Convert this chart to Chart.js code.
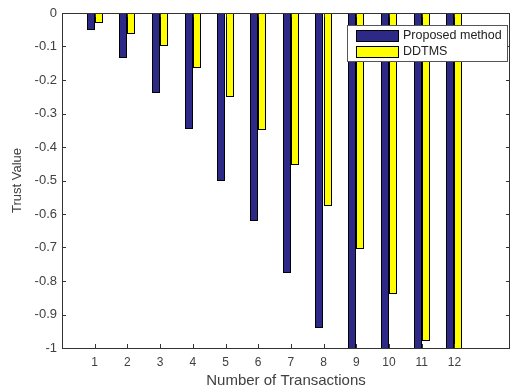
<!DOCTYPE html>
<html>
<head>
<meta charset="utf-8">
<script src="https://cdn.jsdelivr.net/npm/chart.js@4.4.1/dist/chart.umd.min.js"></script>
<style>
  html, body { margin: 0; padding: 0; background: #fff; }
  #wrap { width: 512px; height: 389px; }
</style>
</head>
<body>
<div id="wrap"><canvas id="trustChart" width="512" height="389"></canvas></div>
<script>
// --- DATA ---
const transactions = [1, 2, 3, 4, 5, 6, 7, 8, 9, 10, 11, 12];
const proposedValues = [-0.05, -0.135, -0.24, -0.345, -0.5, -0.62, -0.775, -0.94, -1.1, -1.25, -1.4, -1.55];
const ddtmsValues = [-0.03, -0.062, -0.098, -0.163, -0.25, -0.35, -0.455, -0.577, -0.705, -0.84, -0.978, -1.15];
const yTicks = [0, -0.1, -0.2, -0.3, -0.4, -0.5, -0.6, -0.7, -0.8, -0.9, -1];

const FONT = "'Liberation Sans', Arial, sans-serif";
const TEXT = '#404040';

// snap bars to whole pixels so the edges stay crisp
const snapBars = {
    id: 'snapBars',
    afterDatasetsUpdate(chart) {
        chart.data.datasets.forEach((ds, i) => {
            chart.getDatasetMeta(i).data.forEach(el => {
                const w = Math.round(el.width);
                const left = Math.round(el.x - el.width / 2);
                el.width = w;
                el.x = left + w / 2;
                el.y = Math.round(el.y);
                el.base = Math.round(el.base);
            });
        });
    }
};

// box around plot + inward tick marks + legend inside the axes (MATLAB look)
const matlabBox = {
    id: 'matlabBox',
    afterDraw(chart) {
        const ctx = chart.ctx;
        const a = chart.chartArea;
        const xs = chart.scales.x, ys = chart.scales.y;
        ctx.save();
        ctx.strokeStyle = '#333';
        ctx.lineWidth = 1;
        ctx.strokeRect(a.left + 0.5, a.top + 0.5, a.right - a.left - 1, a.bottom - a.top);
        ctx.beginPath();
        transactions.forEach(t => {
            const px = Math.round(xs.getPixelForValue(t)) + 0.5;
            ctx.moveTo(px, a.bottom); ctx.lineTo(px, a.bottom - 4);
            ctx.moveTo(px, a.top); ctx.lineTo(px, a.top + 4);
        });
        yTicks.forEach(v => {
            const py = Math.round(ys.getPixelForValue(v)) + 0.5;
            ctx.moveTo(a.left, py); ctx.lineTo(a.left + 4, py);
            ctx.moveTo(a.right, py); ctx.lineTo(a.right - 4, py);
        });
        ctx.stroke();

        // legend
        const lx = 347, ly = 25, lw = 160, lh = 36;
        ctx.fillStyle = '#fff';
        ctx.fillRect(lx, ly, lw, lh);
        ctx.strokeStyle = '#555';
        ctx.strokeRect(lx + 0.5, ly + 0.5, lw, lh);
        ctx.font = '12.5px ' + FONT;
        ctx.textBaseline = 'middle';
        chart.data.datasets.forEach((ds, i) => {
            const rowY = ly + 10 + i * 16;
            ctx.fillStyle = ds.backgroundColor;
            ctx.fillRect(lx + 9, rowY - 5, 42, 11);
            ctx.strokeStyle = '#000';
            ctx.strokeRect(lx + 9.5, rowY - 4.5, 42, 11);
            ctx.fillStyle = '#222';
            ctx.fillText(ds.label, lx + 56, rowY + 1);
        });
        ctx.restore();
    }
};

const barStyle = {
    borderColor: '#000',
    borderWidth: 1,
    borderSkipped: false,
    inflateAmount: 0,
    categoryPercentage: 0.5,
    barPercentage: 1
};

const ctx = document.getElementById('trustChart');
new Chart(ctx, {
    type: 'bar',
    data: {
        datasets: [
            Object.assign({
                label: 'Proposed method',
                data: transactions.map((t, i) => ({ x: t, y: proposedValues[i] })),
                backgroundColor: '#2c2a86'
            }, barStyle),
            Object.assign({
                label: 'DDTMS',
                data: transactions.map((t, i) => ({ x: t, y: ddtmsValues[i] })),
                backgroundColor: '#ffff00'
            }, barStyle)
        ]
    },
    options: {
        responsive: false,
        animation: false,
        layout: { padding: { top: 13, right: 2, left: 0, bottom: 0 } },
        plugins: { legend: { display: false }, tooltip: { enabled: false } },
        scales: {
            x: {
                type: 'linear',
                min: 0,
                max: 13.7,
                offset: false,
                grid: { display: false, drawTicks: false },
                border: { display: false },
                afterBuildTicks: s => { s.ticks = transactions.map(v => ({ value: v })); },
                afterFit: s => { s.height = 41; },
                ticks: {
                    color: TEXT,
                    font: { family: FONT, size: 12 },
                    padding: 7,
                    maxRotation: 0,
                    callback: v => String(v)
                },
                title: {
                    display: true,
                    text: 'Number of Transactions',
                    color: TEXT,
                    font: { family: FONT, size: 15 },
                    padding: { top: 0, bottom: -1 }
                }
            },
            y: {
                min: -1,
                max: 0,
                grid: { display: false, drawTicks: false },
                border: { display: false },
                afterBuildTicks: s => { s.ticks = yTicks.map(v => ({ value: v })); },
                afterFit: s => { s.width = 62; },
                ticks: {
                    color: TEXT,
                    font: { family: FONT, size: 13 },
                    padding: 5,
                    callback: v => String(Math.round(v * 10) / 10)
                },
                title: {
                    display: true,
                    text: 'Trust Value',
                    color: TEXT,
                    font: { family: FONT, size: 13 },
                    padding: { top: 10, bottom: 0 }
                }
            }
        }
    },
    plugins: [snapBars, matlabBox]
});
</script>
</body>
</html>
